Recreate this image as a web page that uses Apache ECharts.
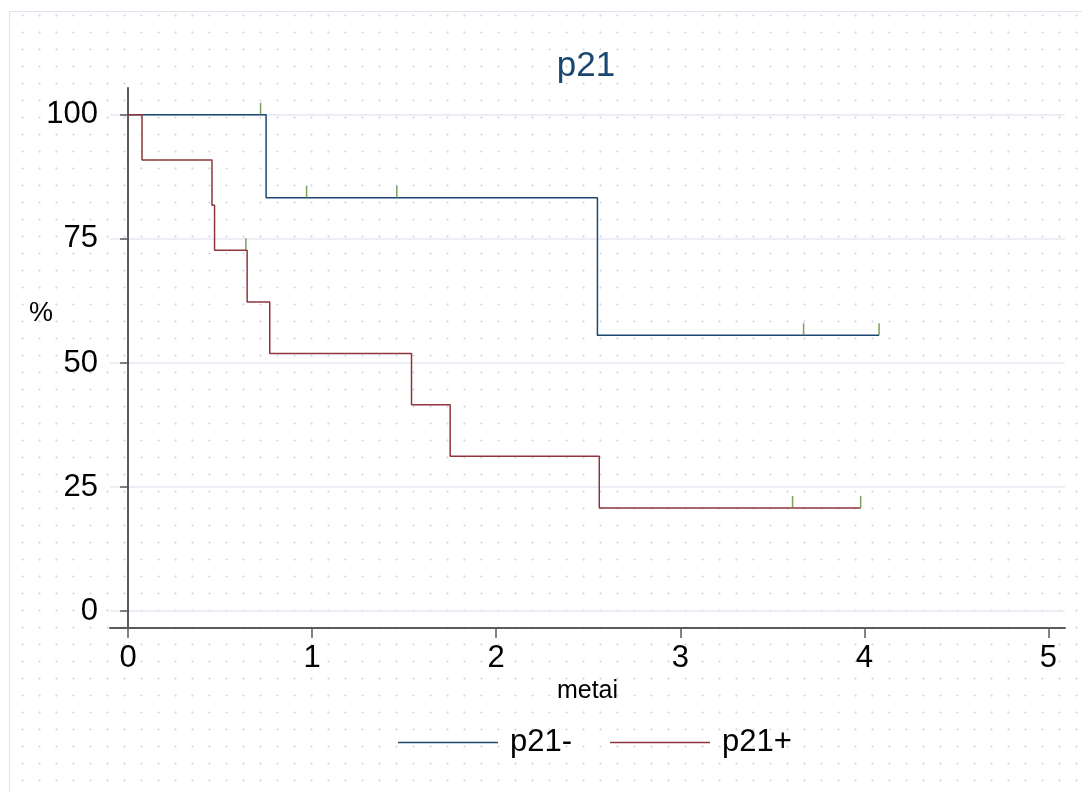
<!DOCTYPE html>
<html>
<head>
<meta charset="utf-8">
<script src="https://cdn.jsdelivr.net/npm/echarts@6/dist/echarts.min.js"></script>
<style>
html, body { margin: 0; padding: 0; background: #fff; }
#frame {
    position: absolute; left: 9px; top: 11px; right: 0; bottom: 0;
    border-left: 1px solid #dfe3ee; border-top: 1px solid #dfe3ee;
    background-image: radial-gradient(circle, #d8dcea 0.9px, rgba(255,255,255,0) 1.3px);
    background-size: 17px 17px;
    background-position: 4px -5px;
}
#main { position: absolute; left: 0; top: 0; width: 1082px; height: 792px; }
</style>
</head>
<body>
<div id="frame"></div>
<div id="main"></div>
<script>
// Kaplan-Meier estimates (time in years, survival in %)
var negTime = [0, 0.75, 2.55, 4.08];
var negSurv = [100, 83.3, 55.6, 55.6];
var posTime = [0, 0.076, 0.456, 0.47, 0.647, 0.77, 1.54, 1.75, 2.56, 3.98];
var posSurv = [100, 90.9, 81.8, 72.7, 62.3, 51.9, 41.6, 31.2, 20.8, 20.8];
// censored observations
var negCensorT = [0.72, 0.97, 1.46, 3.67, 4.08];
var negCensorS = [100, 83.3, 83.3, 55.6, 55.6];
var posCensorT = [0.64, 3.61, 3.98];
var posCensorS = [72.7, 20.8, 20.8];
var yTicks = [0, 25, 50, 75, 100];
var xTicks = [0, 1, 2, 3, 4, 5];

function pairs(xs, ys) {
    var out = [];
    for (var i = 0; i < xs.length; i++) out.push([xs[i], ys[i]]);
    return out;
}

var font = 'Liberation Sans, Arial, sans-serif';
var chart = echarts.init(document.getElementById('main'));

chart.setOption({
    animation: false,
    title: [
        {
            text: 'p21',
            left: 581, top: 44, textAlign: 'center',
            textStyle: { fontFamily: font, fontSize: 35, fontWeight: 'normal', color: '#1a476f' }
        },
        {
            // y axis title, sits above the middle of the axis like the original
            text: '%',
            left: 24, top: 295,
            textStyle: { fontFamily: font, fontSize: 27, fontWeight: 'normal', color: '#000' }
        }
    ],
    grid: { left: 110, right: 17, top: 88, bottom: 164 },
    legend: {
        data: ['p21-', 'p21+'],
        left: 393, top: 722,
        icon: 'rect', itemWidth: 100, itemHeight: 1.5, itemGap: 38,
        textStyle: { fontFamily: font, fontSize: 31, color: '#000', padding: [0, 0, 0, 7] }
    },
    xAxis: {
        type: 'value', min: -0.098, max: 5.09,
        name: 'metai', nameLocation: 'middle', nameGap: 48,
        nameTextStyle: { fontFamily: font, fontSize: 25, color: '#000' },
        axisLine: { onZero: false, lineStyle: { color: '#5a5a5a', width: 2 } },
        axisTick: { customValues: xTicks, length: 10, lineStyle: { color: '#5a5a5a', width: 1.5 } },
        axisLabel: { customValues: xTicks, margin: 15, fontFamily: font, fontSize: 31, color: '#000' },
        splitLine: { show: false }
    },
    yAxis: {
        type: 'value', min: -3.4, max: 105.4,
        axisLine: { show: true, lineStyle: { color: '#5a5a5a', width: 2 } },
        axisTick: { show: true, customValues: yTicks, length: 8, lineStyle: { color: '#5a5a5a', width: 1.5 } },
        axisLabel: { customValues: yTicks, margin: 12, fontFamily: font, fontSize: 31, color: '#000' },
        splitLine: { show: true, lineStyle: { color: '#e6e9f2', width: 1.5 } }
    },
    series: [
        {
            name: 'p21-', type: 'line', step: 'end', symbol: 'none',
            data: pairs(negTime, negSurv),
            itemStyle: { color: '#1a476f' },
            lineStyle: { color: '#1a476f', width: 1.5 }
        },
        {
            name: 'p21+', type: 'line', step: 'end', symbol: 'none',
            data: pairs(posTime, posSurv),
            itemStyle: { color: '#90353b' },
            lineStyle: { color: '#90353b', width: 1.5 }
        },
        {
            name: 'censored-', type: 'scatter',
            symbol: 'rect', symbolSize: [1.5, 12], symbolOffset: [0, -6],
            data: pairs(negCensorT, negCensorS),
            itemStyle: { color: '#5a8a34' }, z: 3
        },
        {
            name: 'censored+', type: 'scatter',
            symbol: 'rect', symbolSize: [1.5, 12], symbolOffset: [0, -6],
            data: pairs(posCensorT, posCensorS),
            itemStyle: { color: '#5a8a34' }, z: 3
        }
    ]
});
</script>
</body>
</html>
